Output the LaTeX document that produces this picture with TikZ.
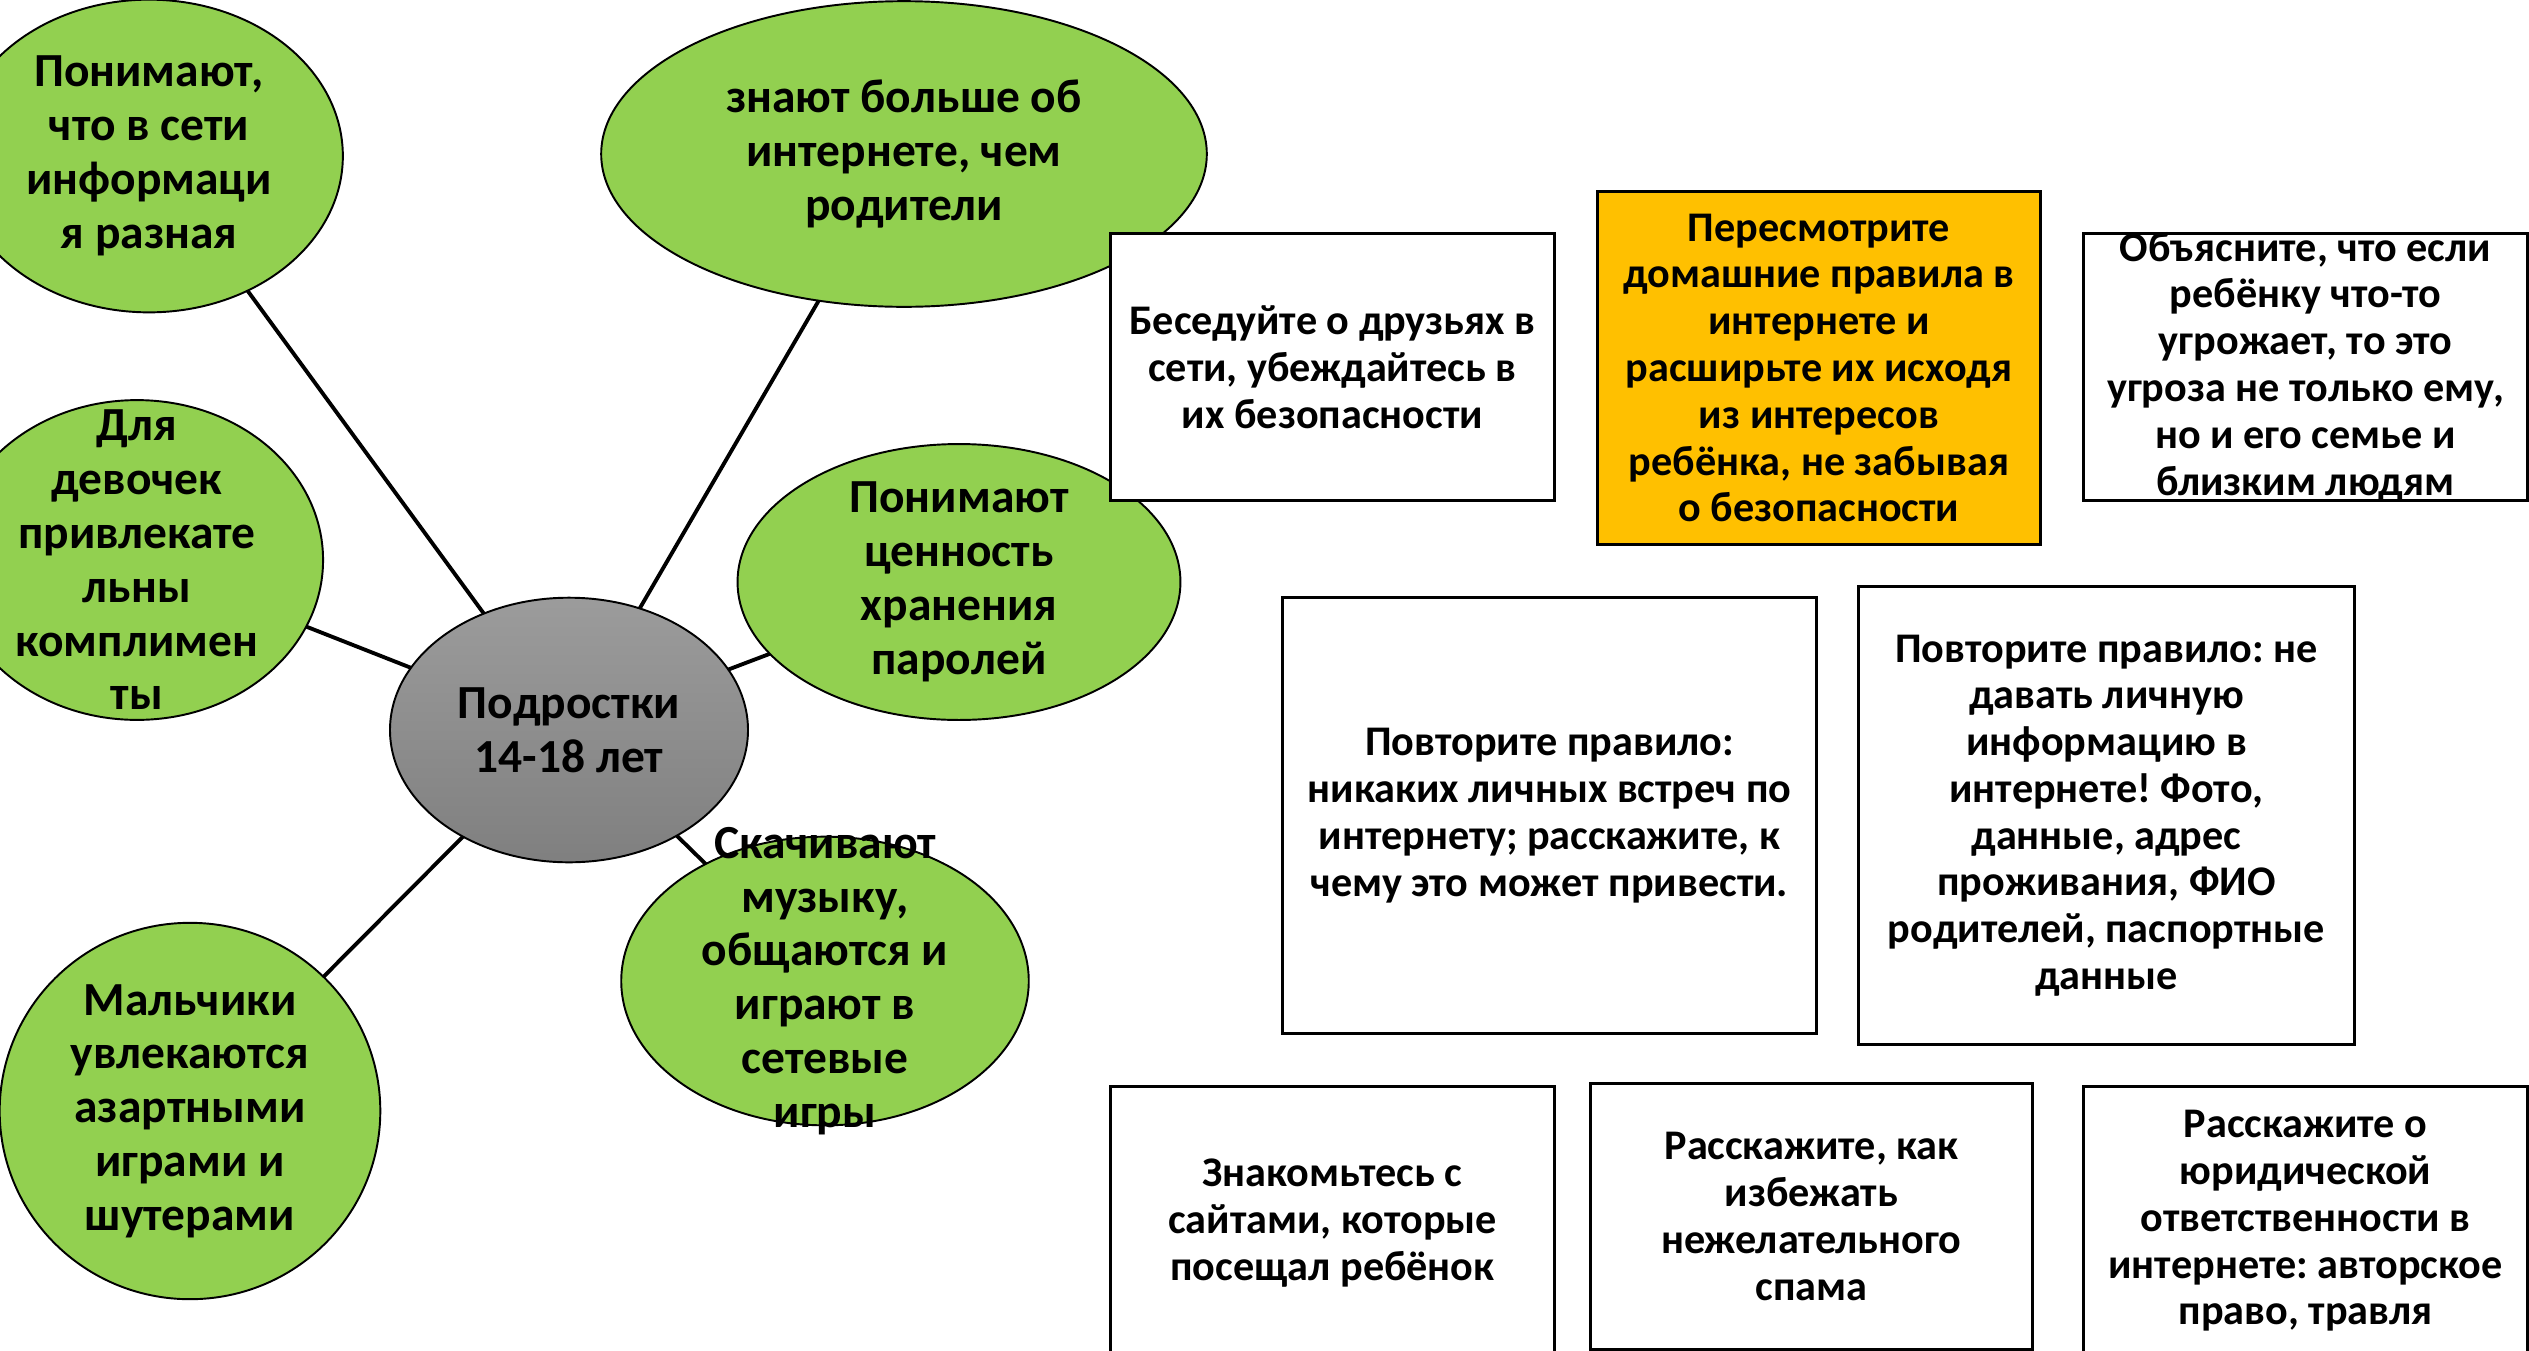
\documentclass[tikz,border=0pt]{standalone}
\usepackage{fontspec}
\setmainfont{Carlito}
\frenchspacing
\usepackage{tikz}
\usetikzlibrary{shapes.geometric}
\definecolor{leaf}{HTML}{92D050}
\definecolor{amber}{HTML}{FFC000}
\newcommand{\boxtext}[3]{\parbox[c][#2][c]{#1}{\centering #3}}

\begin{document}
\begin{tikzpicture}[x=0.01cm,y=-0.01cm,
  kid node/.style={ellipse,fill=leaf,draw,line width=0.55pt,inner sep=0pt,outer sep=0pt,
    font=\bfseries\fontsize{13.5}{15.3}\selectfont},
  tip node/.style={rectangle,fill=white,draw,line width=0.85pt,inner sep=0pt,outer sep=0pt,
    font=\bfseries\fontsize{12}{13.3}\selectfont}]

  \path[use as bounding box,fill=white] (0,0) rectangle (2529,1351);

  % age group and what they do
  \node[kid node] (info) at (149,156) {\boxtext{2.74cm}{2.21cm}{Понимают,\\что в сети\\информаци\\я разная}};
  \node[kid node] (know) at (904,154) {\boxtext{4.28cm}{2.16cm}{знают больше об\\интернете, чем\\родители}};
  \node[kid node] (girls) at (137,560) {\boxtext{2.63cm}{2.26cm}{Для\\девочек\\привлекате\\льны\\комплимен\\ты}};
  \node[kid node] (pass) at (959,582) {\boxtext{3.13cm}{1.95cm}{Понимают\\ценность\\хранения\\паролей}};
  \node[kid node] (music) at (825,981) {\boxtext{2.88cm}{2.04cm}{Скачивают\\музыку,\\общаются и\\играют в\\сетевые\\игры}};
  \node[kid node] (boys) at (190,1111) {\boxtext{2.69cm}{2.66cm}{Мальчики\\увлекаются\\азартными\\играми и\\шутерами}};
  \node[kid node,top color=black!39,bottom color=black!50] (teens) at (569,730) {\boxtext{2.53cm}{1.87cm}{Подростки\\14-18 лет}};

  \path[line width=1.1pt]
    (teens) edge (info)
            edge (know)
            edge (girls)
            edge (pass)
            edge (music)
            edge (boys);

  % advice for parents
  \node[tip node] (friends) at (1332.5,367) {\boxtext{4.43cm}{2.66cm}{Беседуйте о друзьях в\\сети, убеждайтесь в\\их безопасности}};
  \node[tip node,fill=amber] (rules) at (1819,368) {\boxtext{4.42cm}{3.52cm}{Пересмотрите\\домашние правила в\\интернете и\\расширьте их исходя\\из интересов\\ребёнка, не забывая\\о безопасности}};
  \node[tip node] (threat) at (2305.5,367) {\boxtext{4.43cm}{2.66cm}{Объясните, что если\\ребёнку что-то\\угрожает, то это\\угроза не только ему,\\но и его семье и\\близким людям}};
  \node[tip node] (meet) at (1549.5,815.5) {\boxtext{5.33cm}{4.35cm}{Повторите правило:\\никаких личных встреч по\\интернету; расскажите, к\\чему это может привести.}};
  \node[tip node] (data) at (2106.5,815.5) {\boxtext{4.95cm}{4.57cm}{Повторите правило: не\\давать личную\\информацию в\\интернете! Фото,\\данные, адрес\\проживания, ФИО\\родителей, паспортные\\данные}};
  \node[tip node] (sites) at (1332.5,1223) {\boxtext{4.43cm}{2.72cm}{Знакомьтесь с\\сайтами, которые\\посещал ребёнок}};
  \node[tip node] (spam) at (1811.5,1216.5) {\boxtext{4.41cm}{2.65cm}{Расскажите, как\\избежать\\нежелательного\\спама}};
  \node[tip node] (law) at (2305.5,1221) {\boxtext{4.43cm}{2.68cm}{Расскажите о\\юридической\\ответственности в\\интернете: авторское\\право, травля}};
\end{tikzpicture}
\end{document}
